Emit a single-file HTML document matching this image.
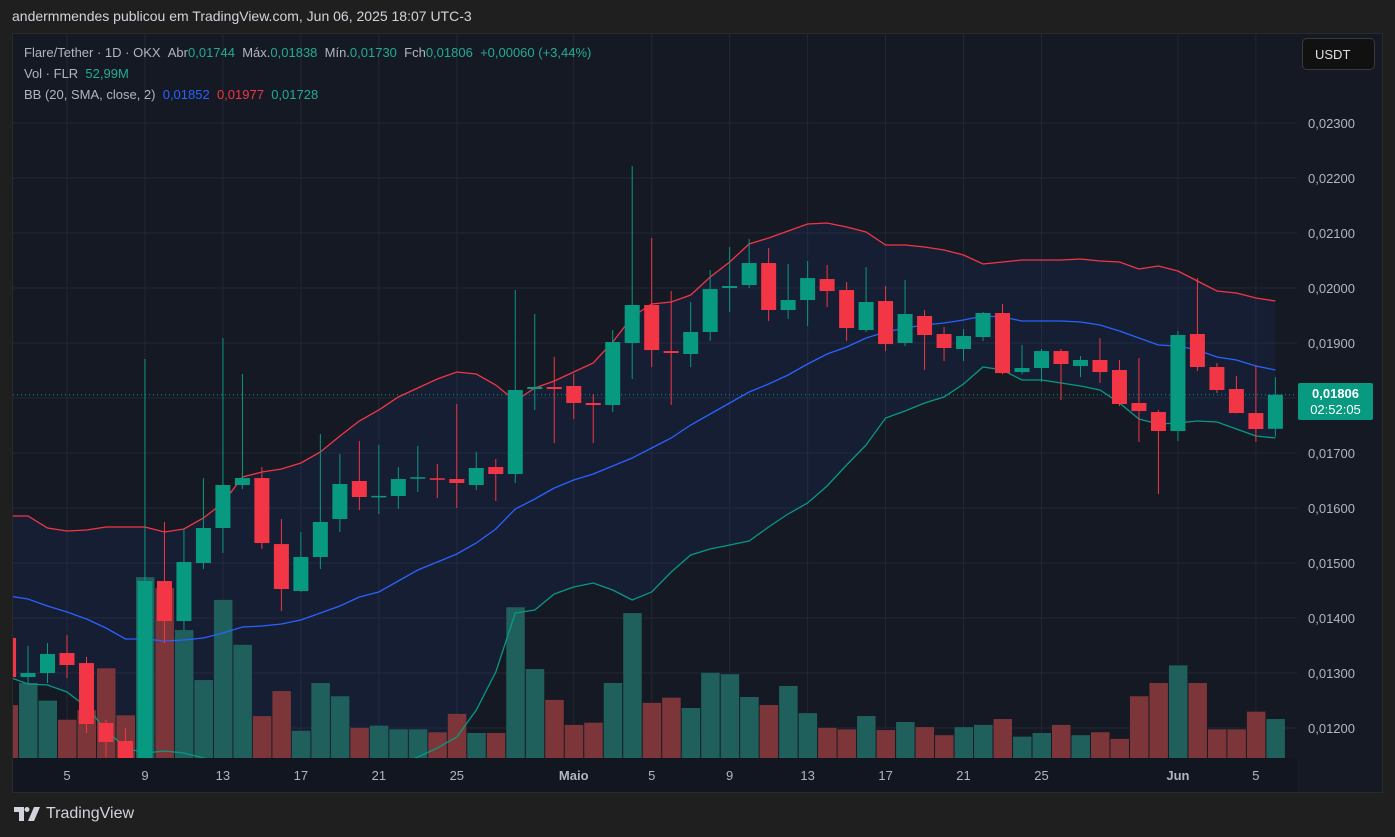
<!DOCTYPE html>
<html><head><meta charset="utf-8">
<style>
html,body{margin:0;padding:0;background:#1f1f1f;width:1395px;height:837px;overflow:hidden;font-family:"Liberation Sans",sans-serif}
#hdr{position:absolute;left:12px;top:8px;color:#d1d4dc;font-size:14px}
#panel{position:absolute;left:12px;top:33px;width:1371px;height:760px;background:#151924;border:1px solid #2a2a2a;box-sizing:border-box}
#svg{position:absolute;left:0;top:0}
.leg{position:absolute;left:24px;font-size:13px;color:#b2b5be;white-space:nowrap}
.g{color:#22ab94}.b{color:#2962ff}.r{color:#f23645}
#usdt{position:absolute;left:1302px;top:38px;width:73px;height:32px;border:1px solid #3a3a3a;border-radius:5px;background:#111;color:#e0e0e0;font-size:13px;line-height:32px;box-sizing:border-box;padding-left:12px}
#pricebox{position:absolute;left:1298px;top:383px;width:75px;height:37px;background:#089981;border-radius:2px;color:#fff;font-size:13px;text-align:center;line-height:16px;padding-top:3px;box-sizing:border-box}
#logo{position:absolute;left:14px;top:805px;color:#d1d4dc;font-size:16px;display:flex;align-items:center;gap:6px}
</style></head><body>
<div id="hdr">andermmendes publicou em TradingView.com, Jun 06, 2025 18:07 UTC-3</div>
<div id="panel"></div>
<svg id="svg" width="1395" height="837"></svg>
<div class="leg" style="top:45px">Flare/Tether · 1D · OKX &nbsp;Abr<span class="g">0,01744</span> &nbsp;Máx.<span class="g">0,01838</span> &nbsp;Mín.<span class="g">0,01730</span> &nbsp;Fch<span class="g">0,01806</span> &nbsp;<span class="g">+0,00060 (+3,44%)</span></div>
<div class="leg" style="top:66px">Vol · FLR &nbsp;<span class="g">52,99M</span></div>
<div class="leg" style="top:87px">BB (20, SMA, close, 2) &nbsp;<span class="b">0,01852</span> &nbsp;<span class="r">0,01977</span> &nbsp;<span class="g">0,01728</span></div>
<div id="usdt">USDT</div>
<div id="pricebox"><b>0,01806</b><br>02:52:05</div>
<div id="logo"><svg width="26" height="14" viewBox="0 0 26 14"><path d="M0 0h10v14H5V5H0z M13 0a2.5 2.5 0 1 1 0 5a2.5 2.5 0 1 1 0-5z M20 0h6l-6 14h-6z" fill="#d1d4dc"/></svg><span>TradingView</span></div>
<script>
const opens=[0.013636,0.012927,0.013,0.013363,0.013181,0.012091,0.011763,0.011145,0.014672,0.013945,0.015,0.015636,0.016418,0.016545,0.015345,0.014491,0.015109,0.0158,0.016491,0.0162,0.016218,0.01655,0.01654,0.016527,0.016418,0.016745,0.016618,0.018163,0.0182,0.018218,0.017909,0.017872,0.019,0.019691,0.018854,0.0188,0.0192,0.02,0.020054,0.020454,0.0196,0.019781,0.020163,0.019963,0.019236,0.019763,0.019,0.019491,0.019163,0.018891,0.019109,0.019545,0.018472,0.018545,0.018854,0.018581,0.018691,0.018509,0.017909,0.017745,0.0174,0.019163,0.018563,0.018163,0.017727,0.01744];
const highs=[0.013745,0.013491,0.013545,0.013691,0.013291,0.012145,0.012,0.018709,0.015745,0.015618,0.016545,0.019091,0.018436,0.016745,0.0158,0.015563,0.017345,0.016981,0.017218,0.017145,0.016745,0.017127,0.0168,0.017891,0.017018,0.016891,0.019963,0.019527,0.018745,0.018436,0.018072,0.019236,0.022218,0.020909,0.019945,0.019745,0.020327,0.020745,0.020891,0.020727,0.020436,0.020491,0.020418,0.020109,0.020381,0.020036,0.020145,0.0196,0.019291,0.019254,0.019563,0.019709,0.018963,0.018891,0.018891,0.018763,0.019091,0.018691,0.018727,0.01778,0.019218,0.020181,0.018636,0.0184,0.018581,0.01838];
const lows=[0.012872,0.012818,0.012818,0.012909,0.011909,0.011472,0.010872,0.010963,0.013545,0.013781,0.014891,0.015181,0.016345,0.015254,0.014127,0.01447,0.014891,0.015563,0.015963,0.015891,0.015981,0.016291,0.016181,0.016,0.016327,0.016127,0.016454,0.017781,0.017181,0.017618,0.017181,0.017745,0.018345,0.018563,0.017872,0.018563,0.019036,0.019563,0.02,0.0194,0.019436,0.019309,0.019654,0.019036,0.0192,0.018854,0.018945,0.018509,0.018672,0.018672,0.019036,0.01843,0.01843,0.018291,0.017963,0.018381,0.018272,0.017854,0.0172,0.016254,0.017218,0.018491,0.018091,0.01772,0.0172,0.0173];
const closes=[0.012927,0.013,0.013345,0.013145,0.012072,0.011745,0.011145,0.014672,0.013945,0.015018,0.015636,0.016418,0.016545,0.015363,0.014527,0.015109,0.015745,0.016436,0.0162,0.01622,0.016527,0.01656,0.01652,0.016454,0.016727,0.016618,0.018145,0.0182,0.018163,0.017909,0.017872,0.019018,0.019691,0.018872,0.018818,0.0192,0.019981,0.020036,0.020454,0.0196,0.019781,0.020181,0.019945,0.019272,0.019745,0.018981,0.019527,0.019145,0.018909,0.019127,0.019545,0.018454,0.018545,0.018854,0.018618,0.018691,0.018472,0.017891,0.017763,0.0174,0.019145,0.018563,0.018145,0.017727,0.017436,0.01806];
const volumes=[72,102,78,52,65,122,58,246,231,174,106,215,154,57,91,37,102,84,41,44,39,39,35,60,34,34,205,121,79,45,48,102,197,75,82,68,116,114,83,72,98,61,41,39,57,38,49,42,31,42,45,53,29,34,45,31,35,26,84,102,126,102,39,39,63,53];
const bbUpper=[0.015854,0.015854,0.015636,0.015581,0.0156,0.015654,0.015654,0.015654,0.015563,0.015618,0.015818,0.016091,0.016563,0.016654,0.016709,0.016818,0.017018,0.017309,0.017581,0.017781,0.018018,0.018181,0.018345,0.018472,0.018436,0.018236,0.017945,0.018181,0.018309,0.018472,0.018636,0.019018,0.019472,0.019709,0.019745,0.019872,0.0202,0.020472,0.0208,0.020909,0.021036,0.021163,0.021181,0.021109,0.021018,0.020781,0.020781,0.020745,0.020691,0.0206,0.020436,0.020472,0.020509,0.020509,0.020509,0.020527,0.020491,0.020472,0.020345,0.0204,0.020309,0.020127,0.019945,0.019909,0.019818,0.019763];
const bbBasis=[0.0144,0.014345,0.014218,0.014109,0.013981,0.013818,0.013618,0.013618,0.013581,0.0136,0.013636,0.013727,0.013836,0.013854,0.013891,0.013963,0.014091,0.014218,0.014381,0.014472,0.014672,0.014872,0.015018,0.015163,0.015363,0.015618,0.015981,0.016163,0.016363,0.016509,0.016618,0.016763,0.016909,0.017091,0.017272,0.017509,0.017709,0.017909,0.018109,0.018254,0.018418,0.018618,0.0188,0.018927,0.019091,0.0192,0.019272,0.019327,0.019363,0.019418,0.019491,0.019472,0.0194,0.0194,0.0194,0.019381,0.019327,0.019218,0.019091,0.018963,0.018945,0.018872,0.018745,0.018691,0.018581,0.018509];
const bbLower=[0.012927,0.0128,0.012781,0.012654,0.012381,0.011963,0.011636,0.011545,0.011581,0.011545,0.011454,0.011363,0.011109,0.011054,0.011072,0.011109,0.011163,0.011127,0.011181,0.011163,0.011327,0.011472,0.011636,0.011836,0.012327,0.013018,0.014091,0.014145,0.014436,0.014563,0.014636,0.014509,0.014327,0.014472,0.014836,0.015145,0.015254,0.015327,0.0154,0.015654,0.015891,0.016091,0.0164,0.016781,0.017145,0.017636,0.017763,0.017909,0.018018,0.018254,0.018563,0.018509,0.018327,0.018327,0.018272,0.018218,0.018145,0.017909,0.017618,0.017527,0.017545,0.017581,0.017563,0.017436,0.017309,0.017272];
const priceTicks=[0.023,0.022,0.021,0.020,0.019,0.018,0.017,0.016,0.015,0.014,0.013,0.012];
const timeTickIdx=[3,7,11,15,19,23,29,33,37,41,45,49,53,60,64];
const timeTickLabels=["5","9","13","17","21","25","Maio","5","9","13","17","21","25","Jun","5"];

const NS="http://www.w3.org/2000/svg";
const svg=document.getElementById('svg');
const X0=13,X1=1297,Y0=34,Y1=758;
const xOf=i=>67+(i-3)*19.49;
const yOf=p=>123+(0.023-p)*55000;
const vH=v=>v/1.36;
function mk(tag,attrs,parent){const e=document.createElementNS(NS,tag);for(const k in attrs)e.setAttribute(k,attrs[k]);(parent||svg).appendChild(e);return e;}
// time axis bg
const tab=mk('rect',{x:13,y:Y1,width:1284,height:34,fill:'#121620'});


const defs=mk('defs',{});
const cp=mk('clipPath',{id:'plot'},defs);
mk('rect',{x:X0,y:Y0,width:X1-X0,height:Y1-Y0},cp);
const grid=mk('g',{});


priceTicks.forEach((p,k)=>{
  const y=yOf(p);
  mk('line',{x1:X0,x2:X1,y1:y,y2:y,stroke:'#232733','stroke-width':1},grid);
  if(Math.abs(p-0.018)>0.0005){
    const t=mk('text',{x:1308,y:y+5,fill:'#b2b5be','font-size':13,'font-family':'Liberation Sans, sans-serif'});
    t.textContent=p.toFixed(5).replace('.',',');
    
    
  }
});
timeTickIdx.forEach((i,k)=>{
  const x=xOf(i);
  mk('line',{x1:x,x2:x,y1:Y0,y2:Y1,stroke:'#232733','stroke-width':1},grid);
  const lab=timeTickLabels[k];
  const t=mk('text',{x:x,y:780,fill:'#b2b5be','font-size':13,'text-anchor':'middle','font-weight':(lab.length>2?'bold':'normal'),'font-family':'Liberation Sans, sans-serif'});
  t.textContent=lab;
  
  
});
const plot=mk('g',{'clip-path':'url(#plot)'});
// band fill
let d='';
bbUpper.forEach((v,i)=>{d+=(i?'L':'M')+xOf(i)+' '+yOf(v);});
for(let i=bbLower.length-1;i>=0;i--)d+='L'+xOf(i)+' '+yOf(bbLower[i]);
const fill=mk('path',{d:d+'Z',fill:'rgba(41,98,255,0.07)'},plot);


// volume
volumes.forEach((v,i)=>{
  const up=closes[i]>=opens[i];
  const h=vH(v);
  const r=mk('rect',{x:xOf(i)-9,y:Y1-h,width:18.5,height:h,fill:up?'#1f605c':'#7c3639'},plot);
  
  
});
function line(arr,color,name){
  let s='';arr.forEach((v,i)=>{s+=(i?'L':'M')+xOf(i).toFixed(1)+' '+yOf(v).toFixed(1);});
  const p=mk('path',{d:s,fill:'none',stroke:color,'stroke-width':1.3},plot);
  
  
}
line(bbUpper,'#f23645','bb-upper-line');
line(bbBasis,'#2962ff','bb-basis-line');
line(bbLower,'#089981','bb-lower-line');
// current price dotted
const cl=mk('line',{x1:X0,x2:X1,y1:yOf(closes[closes.length-1]),y2:yOf(closes[closes.length-1]),stroke:'#089981','stroke-width':1,'stroke-dasharray':'1 3'},plot);


// candles
opens.forEach((o,i)=>{
  const c=closes[i],up=c>=o,col=up?'#089981':'#f23645',x=xOf(i);
  const g=mk('g',{},plot);
  
  
  mk('line',{x1:x,x2:x,y1:yOf(highs[i]),y2:yOf(lows[i]),stroke:col,'stroke-width':1},g);
  const top=yOf(Math.max(o,c)),bot=yOf(Math.min(o,c));
  mk('rect',{x:x-7.5,y:top,width:15,height:Math.max(1.5,bot-top),fill:col},g);
});
</script>
</body></html>
